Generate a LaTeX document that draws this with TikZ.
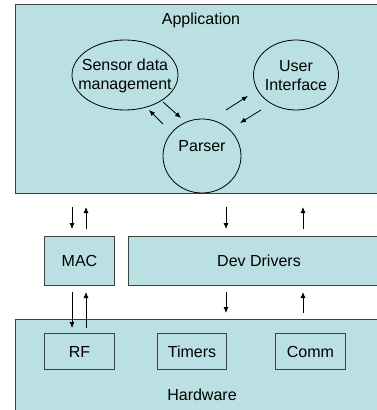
\documentclass[tikz,border=0pt]{standalone}
\usepackage{fontspec}
\setmainfont{Liberation Sans}
\usetikzlibrary{shapes.geometric,arrows.meta}
\definecolor{boxfill}{HTML}{BAE0E3}
\definecolor{boxline}{HTML}{404040}
\begin{document}
\begin{tikzpicture}[x=1pt,y=-1pt,
  lbl/.style={font=\fontsize{16}{19}\selectfont,align=center,inner sep=0pt},
  bigbox/.style={draw=boxline,line width=1.3pt,fill=boxfill,anchor=north west,inner sep=0pt},
  smallbox/.style={draw=boxline,line width=1pt,fill=boxfill,anchor=north west,inner sep=0pt},
  oval/.style={ellipse,draw=black,line width=0.8pt,inner sep=0pt},
  arr/.style={-{Latex[length=6pt,width=5pt]},line width=0.8pt}]
\useasboundingbox (0,0) rectangle (377,410);
\clip (0,0) rectangle (377,410);
% Application
\node[bigbox,minimum width=380pt,minimum height=189pt] (app) at (15,4) {};
\node[lbl] (apptitle) at (201,20) {Application};
\node[oval,minimum width=106pt,minimum height=70pt] (sensor) at (125,75) {};
\node[lbl] (sensortxt) at (125,76) {Sensor data\\management};
\node[oval,minimum width=85pt,minimum height=70pt] (ui) at (296,75) {};
\node[lbl] (uitxt) at (296,76) {User\\Interface};
\node[oval,minimum width=78pt,minimum height=74pt] (parser) at (202,156) {};
\node[lbl] (parsertxt) at (202,146) {Parser};
% arrow endpoints
\coordinate (s1) at (163,102); \coordinate (s2) at (181,118);
\coordinate (p1) at (163,124); \coordinate (p2) at (149,110);
\coordinate (p3) at (226,110); \coordinate (p4) at (248,96);
\coordinate (u1) at (261,110); \coordinate (u2) at (240,123);
\draw[arr] (s1) -- (s2);
\draw[arr] (p1) -- (p2);
\draw[arr] (p3) -- (p4);
\draw[arr] (u1) -- (u2);
% MAC and Dev Drivers
\node[smallbox,minimum width=70pt,minimum height=49pt] (mac) at (44,236) {};
\node[lbl] (mactxt) at (mac.center) {MAC};
\node[smallbox,minimum width=260pt,minimum height=49pt] (dev) at (128,236) {};
\node[lbl] (devtxt) at (259,260.5) {Dev Drivers};
% arrows between app and layer
\coordinate (a1) at (72,207); \coordinate (a2) at (72,229);
\coordinate (a3) at (86,229); \coordinate (a4) at (86,207);
\coordinate (a5) at (226,207); \coordinate (a6) at (226,229);
\coordinate (a7) at (303,229); \coordinate (a8) at (303,207);
\draw[arr] (a1) -- (a2);
\draw[arr] (a3) -- (a4);
\draw[arr] (a5) -- (a6);
\draw[arr] (a7) -- (a8);
% Hardware
\node[bigbox,minimum width=380pt,minimum height=100pt] (hw) at (15,319) {};
\node[lbl] (hwtxt) at (202,395) {Hardware};
\node[smallbox,minimum width=70pt,minimum height=36pt] (rf) at (44,333) {};
\node[lbl] (rftxt) at (rf.center) {RF};
\node[smallbox,minimum width=69pt,minimum height=36pt] (timers) at (157,333) {};
\node[lbl] (timerstxt) at (timers.center) {Timers};
\node[smallbox,minimum width=70pt,minimum height=36pt] (comm) at (275,333) {};
\node[lbl] (commtxt) at (comm.center) {Comm};
% arrows between layer and hardware
\coordinate (b1) at (72,292); \coordinate (b2) at (72,328);
\coordinate (b3) at (86,328); \coordinate (b4) at (86,292);
\coordinate (b5) at (226,292); \coordinate (b6) at (226,313);
\coordinate (b7) at (303,313); \coordinate (b8) at (303,292);
\draw[arr] (b1) -- (b2);
\draw[arr] (b3) -- (b4);
\draw[arr] (b5) -- (b6);
\draw[arr] (b7) -- (b8);
\end{tikzpicture}
\end{document}
